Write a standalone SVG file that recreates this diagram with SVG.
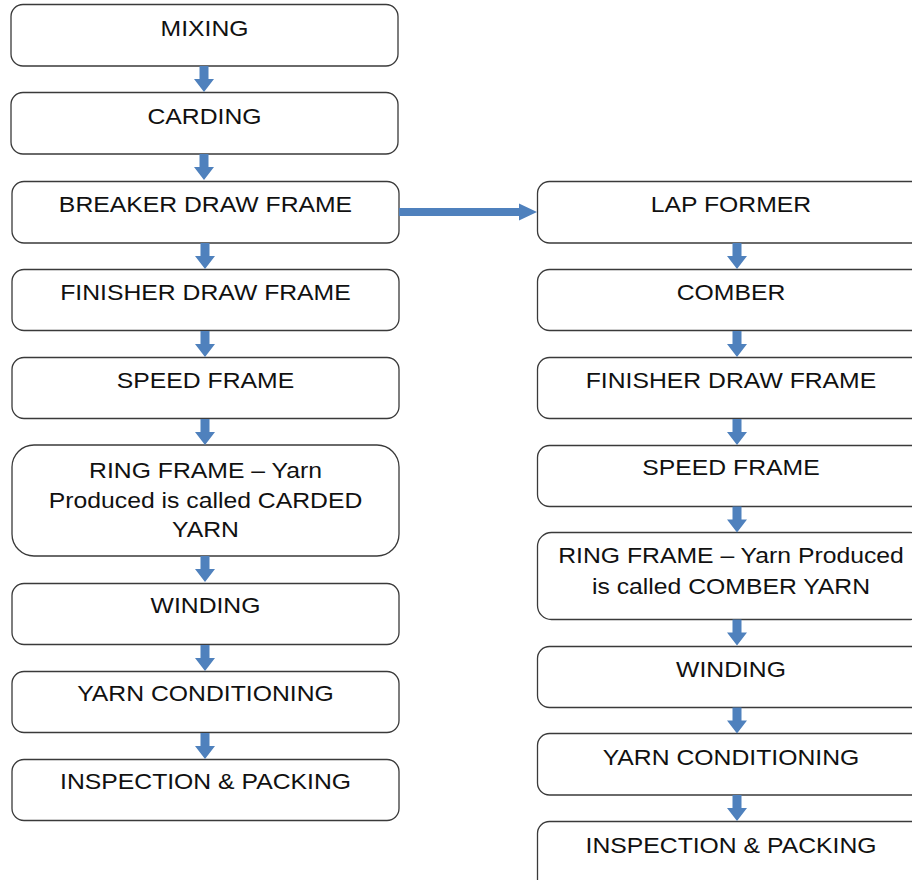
<svg xmlns="http://www.w3.org/2000/svg" xmlns:xlink="http://www.w3.org/1999/xlink" width="912" height="880" viewBox="0 0 912 880">
  <style>
    .box { fill: #ffffff; stroke: #3a3a3a; stroke-width: 1.3; }
    .t { font-family: "Liberation Sans", Arial, sans-serif; font-size: 22px; fill: #111111; text-anchor: middle; }
    .arr { fill: #4f81bd; }
  </style>
  <defs>
    <!-- block arrow pointing down, origin at top centre -->
    <path id="down" class="arr" d="M-4.5,0 H4.5 V13 H10 L0,26 L-10,13 H-4.5 Z"/>
  </defs>
  <rect width="912" height="880" fill="#ffffff"/>

  <!-- left column: carded yarn -->
  <g id="mixing"><rect class="box" x="11" y="4.5" width="387" height="61.5" rx="12"/><text class="t" transform="translate(204.5,36) scale(1.125,1)">MIXING</text></g>
  <g id="carding"><rect class="box" x="11" y="92.5" width="387" height="61.5" rx="12"/><text class="t" transform="translate(204.5,124) scale(1.125,1)">CARDING</text></g>
  <g id="breaker-draw-frame"><rect class="box" x="12" y="181.5" width="387" height="61.5" rx="12"/><text class="t" transform="translate(205.5,212) scale(1.125,1)">BREAKER DRAW FRAME</text></g>
  <g id="finisher-draw-frame-l"><rect class="box" x="12" y="269.5" width="387" height="61" rx="12"/><text class="t" transform="translate(205.5,300) scale(1.125,1)">FINISHER DRAW FRAME</text></g>
  <g id="speed-frame-l"><rect class="box" x="12" y="357.5" width="387" height="61" rx="12"/><text class="t" transform="translate(205.5,388) scale(1.125,1)">SPEED FRAME</text></g>
  <g id="ring-frame-l"><rect class="box" x="12" y="445" width="387" height="111" rx="22"/>
    <text class="t" transform="translate(205.5,478) scale(1.125,1)">RING FRAME – Yarn</text>
    <text class="t" transform="translate(205.5,508) scale(1.125,1)">Produced is called CARDED</text>
    <text class="t" transform="translate(205.5,537) scale(1.125,1)">YARN</text></g>
  <g id="winding-l"><rect class="box" x="12" y="583.5" width="387" height="61" rx="12"/><text class="t" transform="translate(205.5,613) scale(1.125,1)">WINDING</text></g>
  <g id="yarn-conditioning-l"><rect class="box" x="12" y="671.5" width="387" height="61" rx="12"/><text class="t" transform="translate(205.5,701) scale(1.125,1)">YARN CONDITIONING</text></g>
  <g id="inspection-packing-l"><rect class="box" x="12" y="759.5" width="387" height="61" rx="12"/><text class="t" transform="translate(205.5,789) scale(1.125,1)">INSPECTION &amp; PACKING</text></g>

  <!-- right column: combed yarn -->
  <g id="lap-former"><rect class="box" x="537.5" y="181.5" width="387" height="61.5" rx="12"/><text class="t" transform="translate(731,212) scale(1.125,1)">LAP FORMER</text></g>
  <g id="comber"><rect class="box" x="537.5" y="269.5" width="387" height="61" rx="12"/><text class="t" transform="translate(731,300) scale(1.125,1)">COMBER</text></g>
  <g id="finisher-draw-frame-r"><rect class="box" x="537.5" y="357.5" width="387" height="61" rx="12"/><text class="t" transform="translate(731,388) scale(1.125,1)">FINISHER DRAW FRAME</text></g>
  <g id="speed-frame-r"><rect class="box" x="537.5" y="445.5" width="387" height="61" rx="12"/><text class="t" transform="translate(731,475) scale(1.125,1)">SPEED FRAME</text></g>
  <g id="ring-frame-r"><rect class="box" x="537.5" y="532.5" width="387" height="87" rx="14"/>
    <text class="t" transform="translate(731,563) scale(1.125,1)">RING FRAME – Yarn Produced</text>
    <text class="t" transform="translate(731,594) scale(1.125,1)">is called COMBER YARN</text></g>
  <g id="winding-r"><rect class="box" x="537.5" y="646.5" width="387" height="61" rx="12"/><text class="t" transform="translate(731,677) scale(1.125,1)">WINDING</text></g>
  <g id="yarn-conditioning-r"><rect class="box" x="537.5" y="733.5" width="387" height="61.5" rx="12"/><text class="t" transform="translate(731,765) scale(1.125,1)">YARN CONDITIONING</text></g>
  <g id="inspection-packing-r"><rect class="box" x="537.5" y="821.5" width="387" height="70" rx="12"/><text class="t" transform="translate(731,853) scale(1.125,1)">INSPECTION &amp; PACKING</text></g>

  <!-- connectors -->
  <g id="connectors">
    <use xlink:href="#down" x="204" y="66"/>
    <use xlink:href="#down" x="204" y="154"/>
    <use xlink:href="#down" x="205" y="243"/>
    <use xlink:href="#down" x="205" y="331"/>
    <use xlink:href="#down" x="205" y="419"/>
    <use xlink:href="#down" x="205" y="556"/>
    <use xlink:href="#down" x="205" y="645"/>
    <use xlink:href="#down" x="205" y="733"/>
    <path class="arr" d="M399,208 H519 V203.5 L537,212 L519,220.5 V216 H399 Z"/>
    <use xlink:href="#down" x="737" y="243"/>
    <use xlink:href="#down" x="737" y="331"/>
    <use xlink:href="#down" x="737" y="419"/>
    <use xlink:href="#down" x="737" y="506.5"/>
    <use xlink:href="#down" x="737" y="619.5"/>
    <use xlink:href="#down" x="737" y="707.5"/>
    <use xlink:href="#down" x="737" y="795"/>
  </g>
</svg>
